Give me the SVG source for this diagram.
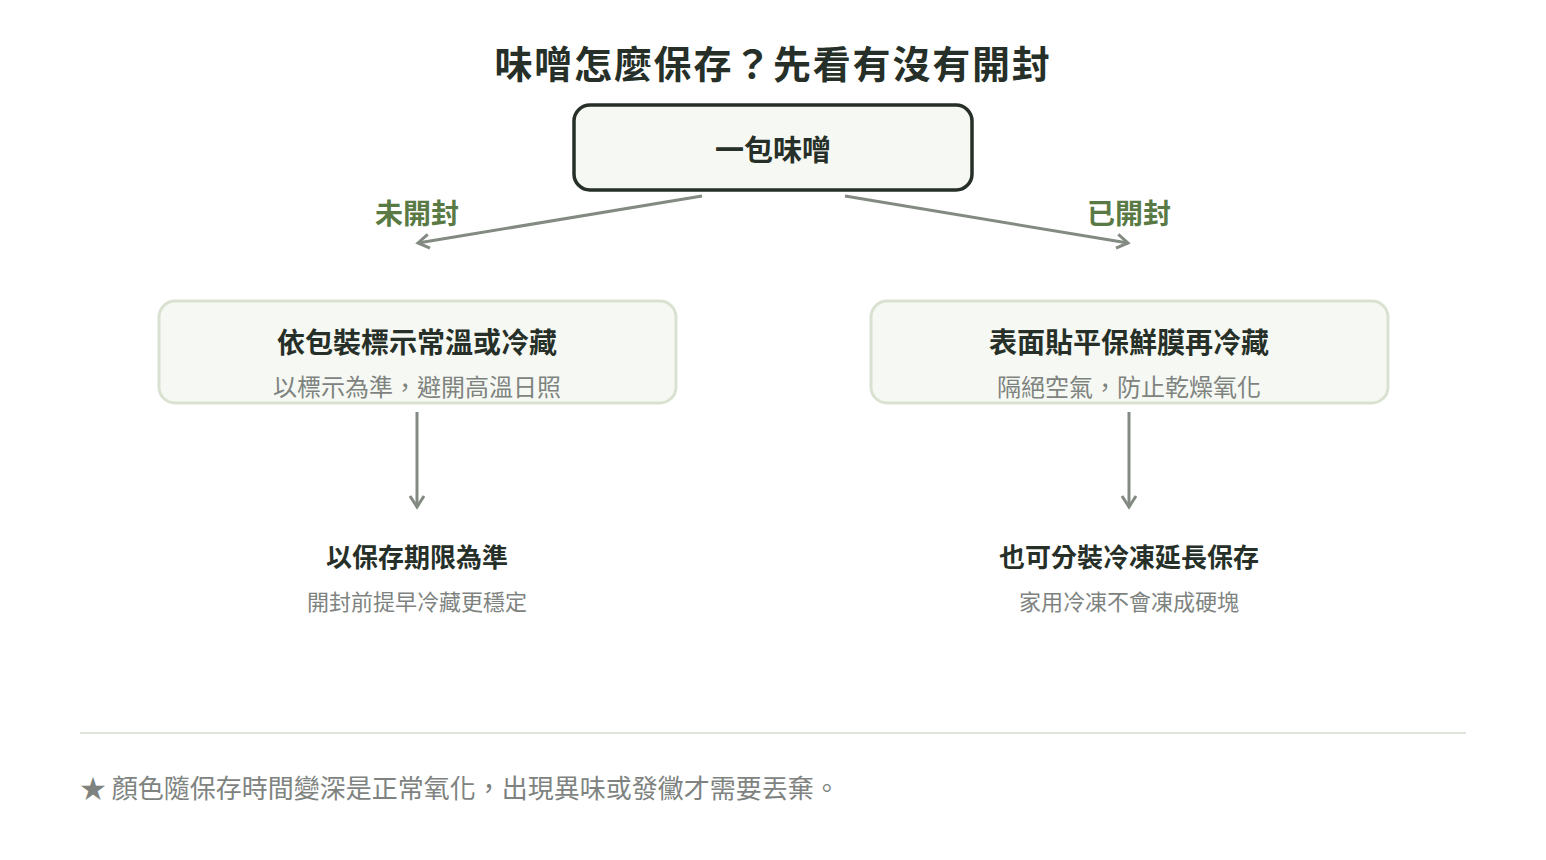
<svg xmlns="http://www.w3.org/2000/svg" width="1546" height="860" viewBox="0 0 1546 860">
<style>
text{font-family:"Noto Sans CJK TC","Noto Sans CJK SC",sans-serif;text-anchor:middle}
.t{font-size:38px;font-weight:700;fill:#263028;letter-spacing:1.8px}
.h{font-size:26px;font-weight:700;fill:#263028}
.h2{font-size:28px;font-weight:700;fill:#263028}
.r{font-size:29px;font-weight:700;fill:#263028}
.s{font-size:22px;fill:#7e837f}
.s2{font-size:24px;fill:#7e837f}
.g{font-size:28px;font-weight:700;fill:#5a7a45}
.box{fill:#f6f8f3;stroke:#d9e2d2;stroke-width:3}
.c{stroke:#838a82;stroke-width:3;fill:none}
</style>
<defs><marker id="a" markerWidth="18" markerHeight="18" refX="13" refY="9" orient="auto" markerUnits="userSpaceOnUse"><path d="M2,2 L13,9 L2,16" fill="none" stroke="#838a82" stroke-width="3"/></marker></defs>
<rect width="1546" height="860" fill="#fff"/>
<text class="t" x="773" y="78">味噌怎麼保存？先看有沒有開封</text>
<g id="root"><rect x="574" y="105" width="398" height="85" rx="16" fill="#f6f8f3" stroke="#263028" stroke-width="3.5"/><text class="r" x="773" y="161">一包味噌</text></g>
<g id="left"><rect class="box" x="159" y="301" width="517" height="102" rx="16"/><text class="h2" x="417" y="353">依包裝標示常溫或冷藏</text><text class="s2" x="417" y="396">以標示為準，避開高溫日照</text></g>
<g id="right"><rect class="box" x="871" y="301" width="517" height="102" rx="16"/><text class="h2" x="1129" y="353">表面貼平保鮮膜再冷藏</text><text class="s2" x="1129" y="396">隔絕空氣，防止乾燥氧化</text></g>
<g id="leftEnd"><text class="h" x="417" y="567">以保存期限為準</text><text class="s" x="417" y="610">開封前提早冷藏更穩定</text></g>
<g id="rightEnd"><text class="h" x="1129" y="567">也可分裝冷凍延長保存</text><text class="s" x="1129" y="610">家用冷凍不會凍成硬塊</text></g>
<g id="connectors">
<line class="c" x1="702" y1="196" x2="418" y2="243" marker-end="url(#a)"/>
<line class="c" x1="845" y1="196" x2="1128" y2="243" marker-end="url(#a)"/>
<line class="c" x1="417" y1="412" x2="417" y2="507" marker-end="url(#a)"/>
<line class="c" x1="1129" y1="412" x2="1129" y2="507" marker-end="url(#a)"/>
<text class="g" x="417" y="224">未開封</text>
<text class="g" x="1129" y="224">已開封</text>
</g>
<line x1="80" y1="733" x2="1466" y2="733" stroke="#dde5d8" stroke-width="2"/>
<text x="80" y="798" style="text-anchor:start;font-size:26px;fill:#7e837f">★ 顏色隨保存時間變深是正常氧化，出現異味或發黴才需要丟棄。</text>
</svg>
